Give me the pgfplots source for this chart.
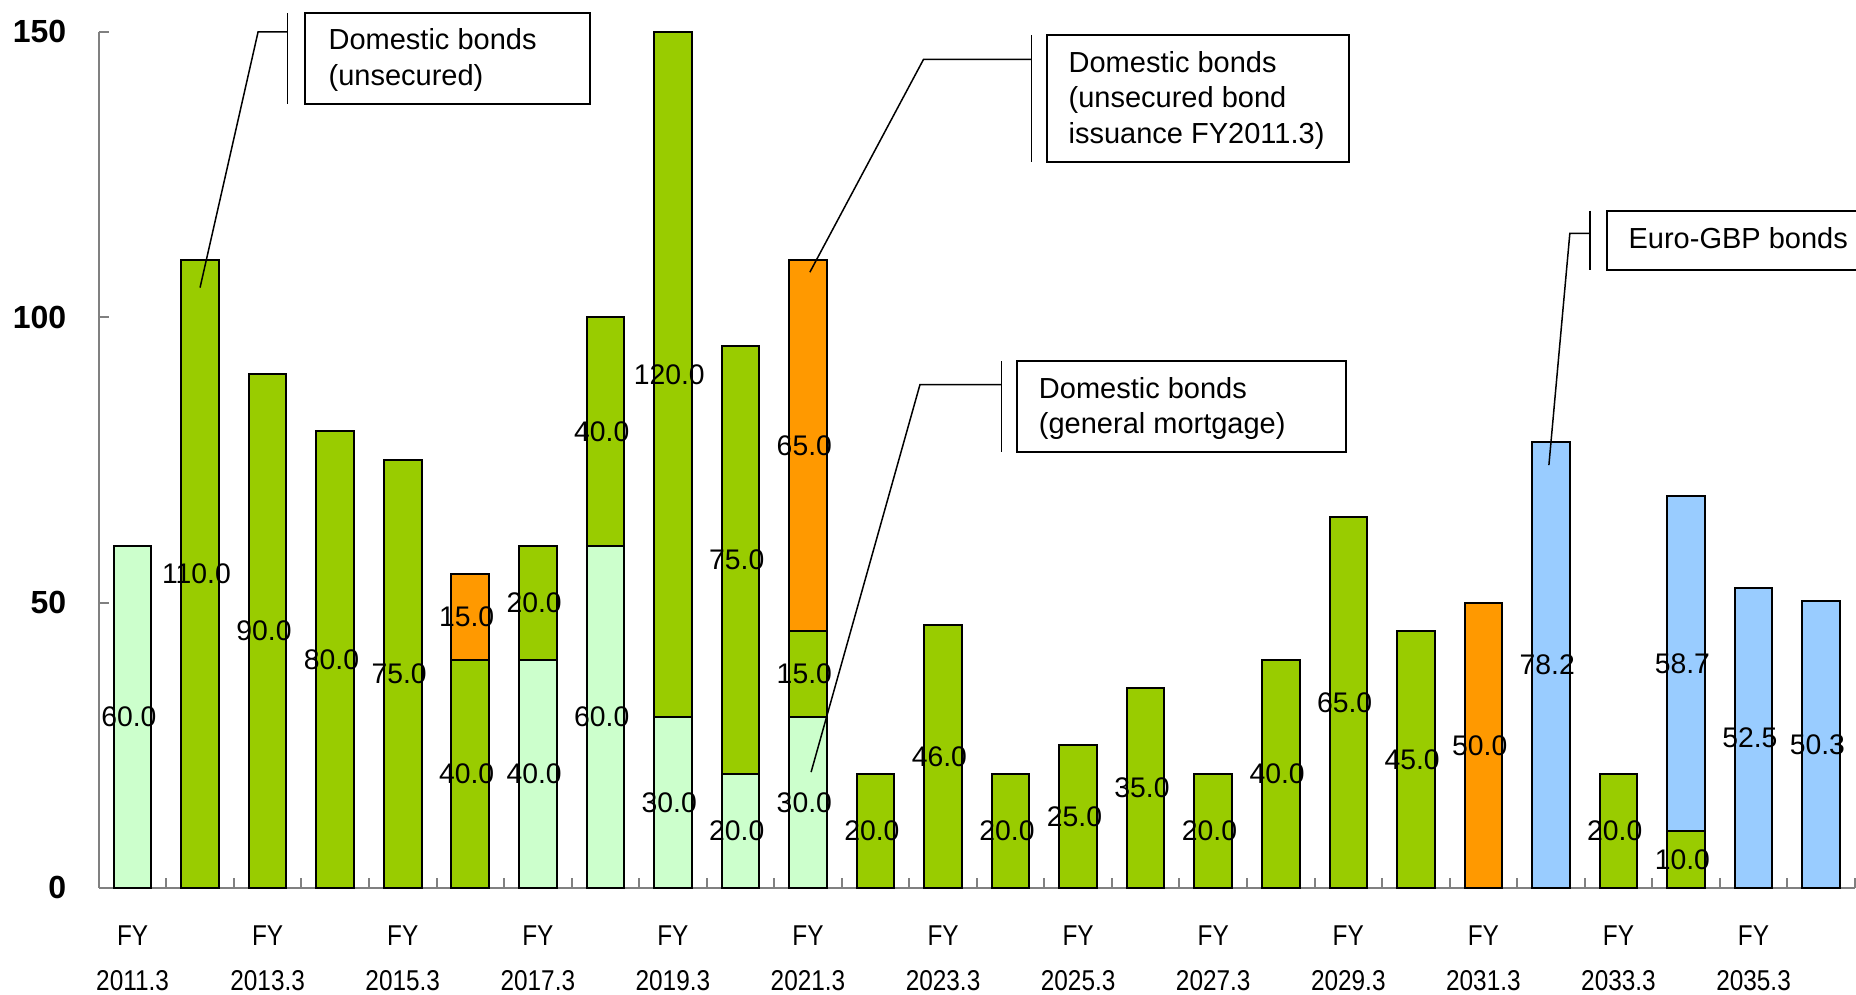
\documentclass[border=0pt]{standalone}
\usepackage{pgfplots}
\pgfplotsset{compat=1.18}
\usepackage{pgfplotstable}
\usepackage{fontspec}
\setmainfont{Liberation Sans}
\newfontfamily\narrowfont[FakeStretch=0.85]{Liberation Sans}

\definecolor{mortgage}{HTML}{CCFFCC}
\definecolor{unsecured}{HTML}{99CC00}
\definecolor{issue}{HTML}{FF9900}
\definecolor{eurogbp}{HTML}{99CCFF}

% redemptions per fiscal year (bar 1 = FY2011.3 ... bar 26 = FY2036.3)
\pgfplotstableread{
x  mort  unsec  iss   gbp
1  60    0      0     0
2  0     110    0     0
3  0     90     0     0
4  0     80     0     0
5  0     75     0     0
6  0     40     15    0
7  40    20     0     0
8  60    40     0     0
9  30    120    0     0
10 20    75     0     0
11 30    15     65    0
12 0     20     0     0
13 0     46     0     0
14 0     20     0     0
15 0     25     0     0
16 0     35     0     0
17 0     20     0     0
18 0     40     0     0
19 0     65     0     0
20 0     45     0     0
21 0     0      50    0
22 0     0      0     78.2
23 0     20     0     0
24 0     10     0     58.7
25 0     0      0     52.5
26 0     0      0     50.3
}\bonds

% data labels, at the middle of each segment
\pgfplotstableread{
x  y      lab
1  30     60.0
2  55     110.0
3  45     90.0
4  40     80.0
5  37.5   75.0
6  20     40.0
6  47.5   15.0
7  20     40.0
7  50     20.0
8  30     60.0
8  80     40.0
9  15     30.0
9  90     120.0
10 10     20.0
10 57.5   75.0
11 15     30.0
11 37.5   15.0
11 77.5   65.0
12 10     20.0
13 23     46.0
14 10     20.0
15 12.5   25.0
16 17.5   35.0
17 10     20.0
18 20     40.0
19 32.5   65.0
20 22.5   45.0
21 25     50.0
22 39.1   78.2
23 10     20.0
24 5      10.0
24 39.35  58.7
25 26.25  52.5
26 25.15  50.3
}\labels

\pgfplotsset{
  bondaxis/.style={
    x=20.262pt, y=1.712pt,
    xmin=0.5, xmax=26.5, ymin=0, ymax=150,
    clip=false,
  },
}
\tikzset{
  boxtext/.style={anchor=west, align=left, inner sep=0pt,
    font=\fontsize{8.7}{10.7}\selectfont},
  leader/.style={line width=0.45pt},
  callout/.style={line width=0.6pt},
}

\begin{document}
\begin{tikzpicture}
\begin{axis}[bondaxis,
  ybar stacked, bar width=11.28pt,
  axis x line=bottom, axis y line=left,
  axis line style={-, draw=black!50, line width=0.6pt},
  tick align=inside,
  major tick length=3pt, minor tick length=3pt,
  tick style={draw=black!50, line width=0.6pt},
  ytick={0,50,100,150},
  xtick={1,3,...,25},
  xticklabels={FY\\2011.3, FY\\2013.3, FY\\2015.3, FY\\2017.3, FY\\2019.3,
    FY\\2021.3, FY\\2023.3, FY\\2025.3, FY\\2027.3, FY\\2029.3,
    FY\\2031.3, FY\\2033.3, FY\\2035.3},
  major x tick style={draw=none},
  minor xtick={0.5,1.5,...,26.5},
  /pgf/number format/assume math mode=true,
  yticklabel style={font=\bfseries\fontsize{9.6}{10}\selectfont, inner sep=0pt},
  yticklabel shift=9.6pt,
  xticklabel style={font=\narrowfont\fontsize{8.6}{13.5}\selectfont,
    align=center, inner sep=0pt},
  xticklabel shift=11.2pt,
]
\addplot[fill=mortgage, draw=black, line width=0.6pt] table[x=x, y=mort]{\bonds};
\addplot[fill=unsecured, draw=black, line width=0.6pt] table[x=x, y=unsec]{\bonds};
\addplot[fill=issue, draw=black, line width=0.6pt] table[x=x, y=iss]{\bonds};
\addplot[fill=eurogbp, draw=black, line width=0.6pt] table[x=x, y=gbp]{\bonds};
\coordinate (bl) at (axis cs:-0.963,-18.75);
\coordinate (tr) at (axis cs:26.517,155.6);
\end{axis}

\begin{axis}[bondaxis, hide axis]
\addplot[draw=none, mark=none, nodes near coords, point meta=explicit symbolic,
  nodes near coords style={anchor=center, inner sep=0pt, xshift=-1.1pt,
    font=\fontsize{8.5}{9}\selectfont}]
  table[x=x, y=y, meta=lab]{\labels};

% Domestic bonds (unsecured)
\draw[callout] (axis cs:3.56,153.3) rectangle (axis cs:7.767,137.3);
\draw[leader] (axis cs:3.297,153.3) -- (axis cs:3.297,137.3);
\draw[leader] (axis cs:3.297,150.0) -- (axis cs:2.858,150.0) -- (axis cs:1.999,105.2);
\node[boxtext] at (axis cs:3.893,145.1) {Domestic bonds\\(unsecured)};

% Domestic bonds (unsecured bond issuance FY2011.3)
\draw[callout] (axis cs:14.534,149.4) rectangle (axis cs:19.005,127.2);
\draw[leader] (axis cs:14.306,149.4) -- (axis cs:14.306,127.2);
\draw[leader] (axis cs:14.306,145.2) -- (axis cs:12.711,145.2) -- (axis cs:11.028,107.9);
\node[boxtext] at (axis cs:14.85,138.0) {Domestic bonds\\(unsecured bond\\issuance FY2011.3)};

% Domestic bonds (general mortgage)
\draw[callout] (axis cs:14.096,92.3) rectangle (axis cs:18.97,76.35);
\draw[leader] (axis cs:13.868,92.3) -- (axis cs:13.868,76.35);
\draw[leader] (axis cs:13.868,88.2) -- (axis cs:12.658,88.2) -- (axis cs:11.046,20.3);
\node[boxtext] at (axis cs:14.41,84.0) {Domestic bonds\\(general mortgage)};

% Euro-GBP bonds
\draw[callout] (axis cs:22.827,118.7) rectangle (axis cs:27.2,108.3);
\draw[leader] (axis cs:22.58,118.7) -- (axis cs:22.58,108.3);
\draw[leader] (axis cs:22.58,114.7) -- (axis cs:22.28,114.7) -- (axis cs:21.97,74.1);
\node[boxtext] at (axis cs:23.14,113.9) {Euro-GBP bonds};
\end{axis}
\pgfresetboundingbox
\useasboundingbox (bl) rectangle (tr);
\end{tikzpicture}
\end{document}
